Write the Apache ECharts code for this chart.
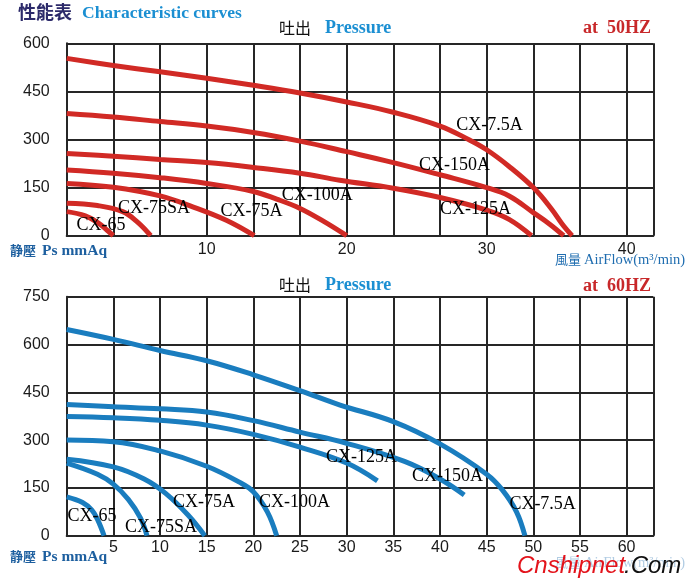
<!DOCTYPE html>
<html><head><meta charset="utf-8">
<script src="https://cdn.jsdelivr.net/npm/echarts@6/dist/echarts.min.js"></script>
<style>html,body{margin:0;padding:0;background:#fff}#c{width:700px;height:588px}</style>
</head><body><div id="c"></div>
<script>
// ---------- data ----------
const models = ['CX-65', 'CX-75SA', 'CX-75A', 'CX-100A', 'CX-125A', 'CX-150A', 'CX-7.5A'];

// 50 Hz curves: [airflow m3/min, static pressure mmAq]
const cx65_50   = [[0,75],[1.33,62],[2.22,41],[2.89,17],[3.33,0]];
const cx75sa_50 = [[0,101],[2.2,94],[4.0,75],[5.1,41],[6.0,0]];
const cx75a_50  = [[0,163],[3.33,151],[6.67,124],[9.0,90],[11.4,48],[13.4,0]];
const cx100a_50 = [[0,205],[3.33,195],[6.67,181],[10,163],[13.33,138],[15.0,114],[16.67,85],[18.3,46],[20,0]];
const cx125a_50 = [[0,256],[3.33,248],[6.67,238],[10,228],[13.33,213],[16.67,195],[19.5,173],[23.33,148],[26.67,119],[30,80],[31.6,51],[33.2,0]];
const cx150a_50 = [[0,381],[3.33,370],[6.67,356],[10,342],[13.33,322],[16.67,295],[20,262],[23.33,228],[26.67,190],[30,150],[31.6,124],[33.33,72],[34.5,36],[35.5,0]];
const cx75_50   = [[0,553],[3.33,531],[6.67,511],[10,491],[13.33,469],[16.67,445],[20,417],[23.33,385],[26.67,342],[28.7,300],[30,268],[31.6,216],[33.33,150],[34.6,85],[35.5,30],[36.1,0]];
const curves50 = [cx65_50, cx75sa_50, cx75a_50, cx100a_50, cx125a_50, cx150a_50, cx75_50];
const labelAt50 = [[2.45,34],[6.24,84],[13.2,75],[17.9,127],[29.2,81],[27.7,221],[30.2,345]];

// 60 Hz curves
const cx65_60   = [[0,122],[1.7,104],[2.7,80],[3.3,51],[4.0,0]];
const cx75sa_60 = [[0,228],[3.3,193],[5,162],[6.6,114],[7.9,56],[8.6,0]];
const cx75a_60  = [[0,240],[5,216],[8.3,178],[10.6,133],[13.0,65],[14.8,0]];
const cx100a_60 = [[0,300],[5,295],[10,266],[15,218],[18.5,168],[20,138],[21.5,75],[22.5,0]];
const cx125a_60 = [[0,374],[5,370],[10,362],[15,347],[20,318],[25,278],[30,228],[33.3,172]];
const cx150a_60 = [[0,412],[5,405],[10,398],[15,388],[20,361],[25,325],[30,290],[36.2,233],[40,178],[42.6,128]];
const cx75_60   = [[0,647],[5,616],[10,581],[15,549],[20,505],[25,455],[29.3,410],[35,358],[40,288],[45,193],[46.7,143],[48.2,75],[49.1,0]];
const curves60 = [cx65_60, cx75sa_60, cx75a_60, cx100a_60, cx125a_60, cx150a_60, cx75_60];
const labelAt60 = [[2.7,60],[10.1,28],[14.7,104],[24.4,104],[31.6,245],[40.8,185],[51.0,100]];

const yTicks50 = { min: 0, max: 600, step: 150 };
const yTicks60 = { min: 0, max: 750, step: 150 };
const xTicks50 = { min: 0, max: 41.9, grid: 10 / 3, label: 10 };
const xTicks60 = { min: 0, max: 62.86, grid: 5, label: 5 };

// ---------- styling ----------
const RED = '#d12a25', BLUE = '#1a7dbf', GRID = '#262626';
const chart = echarts.init(document.getElementById('c'));

function xAxis(gi, t, margin) {
  return {
    gridIndex: gi, type: 'value', min: t.min, max: t.max, interval: t.grid,
    axisLine: { show: true, onZero: false, lineStyle: { color: GRID, width: 2 } },
    axisTick: { show: false },
    splitLine: { show: true, lineStyle: { color: GRID, width: 2 } },
    axisLabel: {
      margin: margin, fontSize: 16, color: '#1a1a1a', fontFamily: 'Liberation Sans',
      showMaxLabel: true,
      formatter: v => {
        const k = Math.round(v / t.label);
        return (v > 0.01 && Math.abs(v - k * t.label) < 0.01) ? String(k * t.label) : '';
      }
    }
  };
}
function yAxis(gi, t) {
  return {
    gridIndex: gi, type: 'value', min: t.min, max: t.max, interval: t.step,
    axisLine: { show: true, lineStyle: { color: GRID, width: 2 } },
    axisTick: { show: false },
    splitLine: { show: true, lineStyle: { color: GRID, width: 2 } },
    axisLabel: { margin: 17, fontSize: 16, color: '#1a1a1a', fontFamily: 'Liberation Sans' }
  };
}

const series = [];
curves50.forEach((d, i) => series.push({
  name: models[i] + ' 50Hz', type: 'line', xAxisIndex: 0, yAxisIndex: 0, data: d,
  smooth: 0.4, showSymbol: false, symbol: 'none',
  lineStyle: { color: RED, width: 5 }, z: 3
}));
curves60.forEach((d, i) => series.push({
  name: models[i] + ' 60Hz', type: 'line', xAxisIndex: 1, yAxisIndex: 1, data: d,
  smooth: 0.4, showSymbol: false, symbol: 'none',
  lineStyle: { color: BLUE, width: 5 }, z: 3
}));
function labelSeries(xi, pos) {
  return {
    type: 'scatter', xAxisIndex: xi, yAxisIndex: xi, symbolSize: 1, z: 5,
    itemStyle: { color: '#000', opacity: 0 }, silent: true,
    data: models.map((m, i) => ({ name: m, value: pos[i] })),
    label: { show: true, position: 'inside', formatter: '{b}', color: '#000', opacity: 1,
      textBorderWidth: 0, fontFamily: 'Liberation Serif', fontSize: 18 }
  };
}
series.push(labelSeries(0, labelAt50));
series.push(labelSeries(1, labelAt60));

function txt(x, y, text, font, fill, align, extra) {
  return Object.assign({ type: 'text', x: x, y: y, z: 10,
    style: { text: text, font: font, fill: fill, align: align || 'left', verticalAlign: 'middle',
      textAlign: align || 'left', textVerticalAlign: 'middle' } }, extra || {});
}
const SERIF_B = 'bold 18px "Liberation Serif"';
const graphics = [
  txt(18, 12, '性能表', 'bold 18px "Noto Sans CJK TC"', '#2c2a6a'),
  txt(82, 13, 'Characteristic curves', 'bold 17.5px "Liberation Serif"', '#1b8fd2'),
  txt(279, 28, '吐出', '16px "Noto Sans CJK TC"', '#111'),
  txt(325, 28, 'Pressure', SERIF_B, '#1b8fd2'),
  txt(651, 28, 'at  50HZ', SERIF_B, '#c8282a', 'right'),
  txt(279, 285, '吐出', '16px "Noto Sans CJK TC"', '#111'),
  txt(325, 285, 'Pressure', SERIF_B, '#1b8fd2'),
  txt(651, 286, 'at  60HZ', SERIF_B, '#c8282a', 'right'),
  txt(10, 250, '静壓', 'bold 13px "Noto Sans CJK TC"', '#1d5f9f'),
  txt(42, 251, 'Ps mmAq', 'bold 15.5px "Liberation Serif"', '#1d5f9f'),
  txt(10, 556, '静壓', 'bold 13px "Noto Sans CJK TC"', '#1d5f9f'),
  txt(42, 557, 'Ps mmAq', 'bold 15.5px "Liberation Serif"', '#1d5f9f'),
  txt(555, 259, '風量', '13px "Noto Sans CJK TC"', '#1f6db0'),
  txt(584, 260, 'AirFlow(m³/min)', '14.5px "Liberation Serif"', '#1f6db0'),
  txt(555, 562, '風量', '13px "Noto Sans CJK TC"', 'rgba(31,109,176,0.35)'),
  txt(584, 563, 'AirFlow(m³/min)', '14.5px "Liberation Serif"', 'rgba(31,109,176,0.35)'),
  txt(517, 566, 'Cnshipnet', 'italic 24px "Liberation Sans"', '#e3131b', 'left', { z: 12 }),
  txt(624, 566, '.Com', 'italic 24px "Liberation Sans"', '#111', 'left', { z: 12 })
];

chart.setOption({
  backgroundColor: '#fff',
  animation: false,
  grid: [
    { left: 66.7, right: 46.7, top: 43.3, height: 192.4 },
    { left: 66.7, right: 46.7, top: 296.7, height: 239 }
  ],
  xAxis: [xAxis(0, xTicks50, 6), xAxis(1, xTicks60, 4)],
  yAxis: [yAxis(0, yTicks50), yAxis(1, yTicks60)],
  series: series,
  graphic: graphics
});
</script>
</body></html>
